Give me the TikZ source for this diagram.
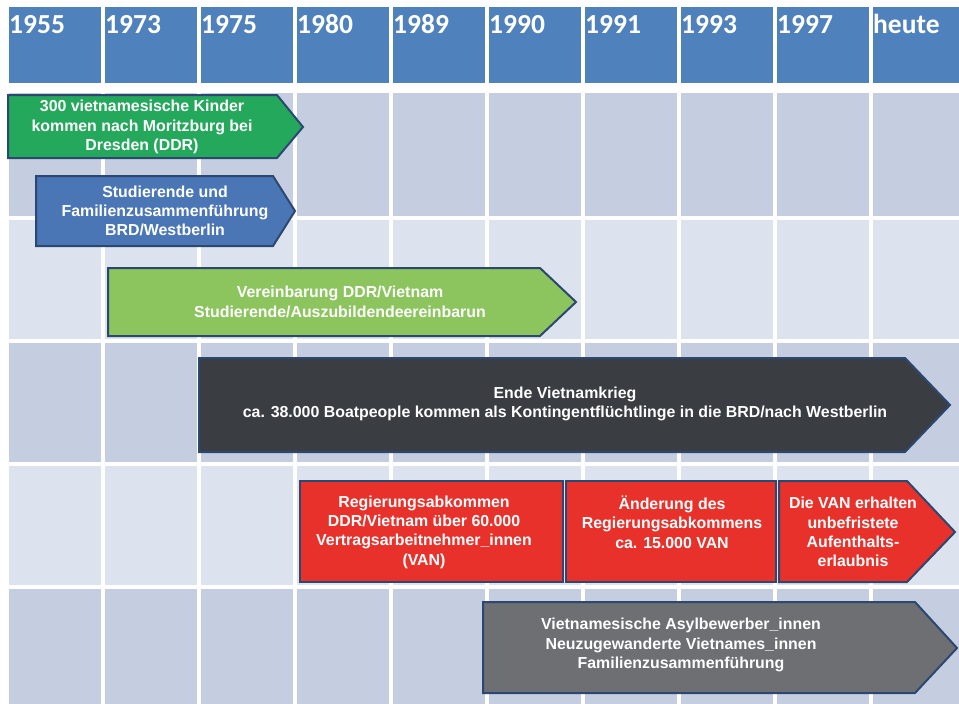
\documentclass[tikz,border=0pt]{standalone}
\usepackage{fontspec}
\setmainfont{Liberation Sans}
\newfontfamily\jahrschrift{Carlito}
\usepackage{tikz}
\usetikzlibrary{calc}

\definecolor{kopfblau}{RGB}{79,129,189}
\definecolor{bandhell}{RGB}{221,227,238}
\definecolor{banddunkel}{RGB}{197,206,224}
\definecolor{rand}{RGB}{44,72,112}
\definecolor{gruen}{RGB}{36,168,92}
\definecolor{blau}{RGB}{74,118,182}
\definecolor{hellgruen}{RGB}{140,196,94}
\definecolor{anthrazit}{RGB}{58,61,66}
\definecolor{rot}{RGB}{232,49,42}
\definecolor{grau}{RGB}{110,111,115}

\tikzset{
	pfeil/.style={draw=rand, line width=2pt, line join=miter},
	schrift/.style={text=white, font=\bfseries\fontsize{15.9}{19.3}\selectfont, align=center, inner sep=0pt},
	jahr/.style={text=white, font=\jahrschrift\bfseries\fontsize{27.5}{27.5}\selectfont, anchor=base west, inner sep=0pt}
}

\begin{document}
\begin{tikzpicture}[x=1pt,y=-1pt]
	\clip (0,0) rectangle (959,704);
	\fill[white] (0,0) rectangle (959,704);
	%\draw[help lines] (0,0) grid (959,704);
	% Kopfzeile mit Jahreszahlen
	\foreach \j [count=\i from 0] in {1955,1973,1975,1980,1989,1990,1991,1993,1997,heute}{
		\fill[kopfblau] ({9+96*\i},7) rectangle ({101+96*\i},83);
		\node[jahr] (jahr\i) at ({9+96*\i},33) {\j};
	}
	% Zeilen
	\foreach \oben/\unten/\farbe in {93/216/banddunkel,220/339/bandhell,343/462/banddunkel,466/585/bandhell,589/704/banddunkel}
		\foreach \i in {0,...,9}
			\fill[\farbe] ({9+96*\i},\oben) rectangle ({101+96*\i},\unten);

	% Pfeile
	\draw[pfeil, fill=gruen] (8,95) -- (277,95) -- (303,127) -- (277,158) -- (8,158) -- cycle;
	\node[schrift] (kinder) at (142,127) {300 vietnamesische Kinder\\kommen nach Moritzburg bei\\Dresden (DDR)};

	\draw[pfeil, fill=blau] (36,176) -- (273,176) -- (295,211) -- (273,246) -- (36,246) -- cycle;
	\node[schrift] (studium) at (165,211) {Studierende und\\Familienzusammenführung\\BRD/Westberlin};

	\draw[pfeil, fill=hellgruen] (108,268) -- (540,268) -- (576,302) -- (540,336) -- (108,336) -- cycle;
	\node[schrift] (vereinbarung) at (340,302) {Vereinbarung DDR/Vietnam\\Studierende/Auszubildendeereinbarun};

	\draw[pfeil, fill=anthrazit] (199,358) -- (905,358) -- (950,405) -- (905,452) -- (199,452) -- cycle;
	\node[schrift] (krieg) at (565,404) {Ende Vietnamkrieg\\ca. 38.000 Boatpeople kommen als Kontingentflüchtlinge in die BRD/nach Westberlin};

	% Vertragsarbeitnehmer
	\draw[pfeil, fill=rot] (300,481) rectangle (563,582);
	\node[schrift] (abkommen) at (424,532) {Regierungsabkommen\\DDR/Vietnam über 60.000\\Vertragsarbeitnehmer\_innen\\(VAN)};
	\draw[pfeil, fill=rot] (566,481) rectangle (776,582);
	\node[schrift] (aenderung) at (672,522) {Änderung des\\Regierungsabkommens\\ca. 15.000 VAN};
	\draw[pfeil, fill=rot] (779,481) -- (907,481) -- (955,532) -- (907,582) -- (779,582) -- cycle;
	\node[schrift] (aufenthalt) at (853,532) {Die VAN erhalten\\unbefristete\\Aufenthalts-\\erlaubnis};

	\draw[pfeil, fill=grau] (483,602) -- (915,602) -- (957,648) -- (915,693) -- (483,693) -- cycle;
	\node[schrift] (asyl) at (681,645) {Vietnamesische Asylbewerber\_innen\\Neuzugewanderte Vietnames\_innen\\Familienzusammenführung};
\end{tikzpicture}
\end{document}
